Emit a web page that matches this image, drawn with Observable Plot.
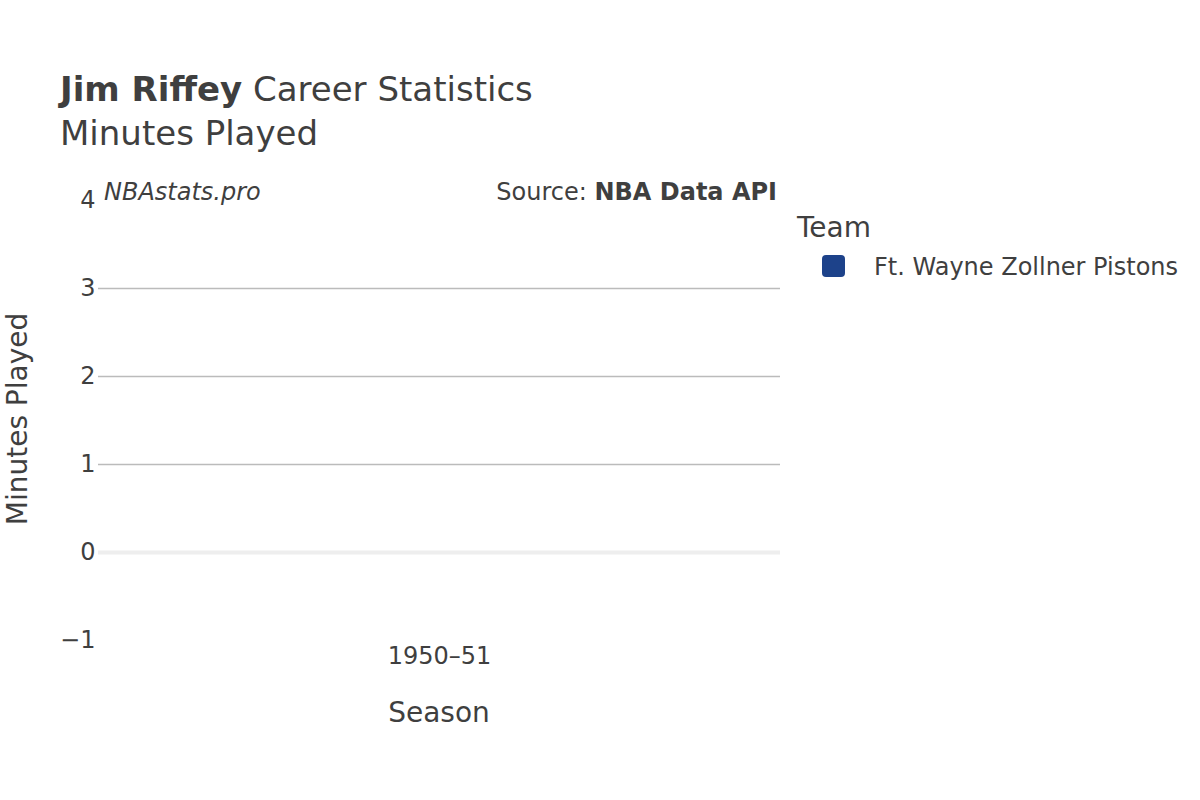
<!DOCTYPE html>
<html>
<head>
<meta charset="utf-8">
<script src="https://cdn.jsdelivr.net/npm/d3@7"></script>
<script src="https://cdn.jsdelivr.net/npm/@observablehq/plot@0.6"></script>
<style>
  html, body { margin: 0; padding: 0; background: #fff; }
  body { width: 1200px; height: 800px; position: relative; overflow: hidden;
         font-family: "DejaVu Sans", sans-serif; color: #3f3f3f; }
  .abs { position: absolute; white-space: nowrap; }
  #title { left: 60px; top: 67px; font-size: 34px; line-height: 44px; }
  #chart { position: absolute; left: 0; top: 160px; }
  #ylabel { left: 17px; top: 419px; font-size: 28px; transform: translate(-50%, -50%) rotate(-90deg); }
  #xlabel { left: 439px; top: 712px; font-size: 28px; transform: translate(-50%, -50%); }
  #brand { left: 104px; top: 192px; font-size: 24px; font-style: italic; transform: translateY(-50%); }
  #source { left: 777px; top: 192px; font-size: 24px; transform: translate(-100%, -50%); }
  #legtitle { left: 797px; top: 227px; font-size: 28px; transform: translateY(-50%); }
  #legswatch { left: 822px; top: 255px; width: 23px; height: 22px; border-radius: 4px; }
  #legtext { left: 874px; top: 267px; font-size: 24px; transform: translateY(-50%); }
</style>
</head>
<body>
<div id="title" class="abs"><b>Jim Riffey</b> Career Statistics<br>Minutes Played</div>
<div id="brand" class="abs">NBAstats.pro</div>
<div id="source" class="abs">Source: <b>NBA Data API</b></div>
<div id="legtitle" class="abs">Team</div>
<div id="legswatch" class="abs"></div>
<div id="legtext" class="abs"></div>
<div id="ylabel" class="abs">Minutes Played</div>
<div id="xlabel" class="abs">Season</div>
<div id="chart"></div>
<script>
const seasons = ["1950–51"];
const teams = ["Ft. Wayne Zollner Pistons"];
const minutes = [0];
const teamColors = ["#1d428a"];
const yTicks = [-1, 0, 1, 2, 3, 4];
const gridTicks = [1, 2, 3];

const data = seasons.map((s, i) => ({season: s, team: teams[i], minutes: minutes[i]}));

document.getElementById("legswatch").style.background = teamColors[0];
document.getElementById("legtext").textContent = teams[0];

const plot = Plot.plot({
  width: 800,
  height: 580,
  marginTop: 40,
  marginBottom: 100,
  marginLeft: 98,
  marginRight: 20,
  style: { fontFamily: "DejaVu Sans, sans-serif", fontSize: "24px", color: "#3f3f3f", background: "transparent", overflow: "visible" },
  x: { domain: seasons, padding: 0.2, label: null },
  y: { domain: [-1, 4], label: null },
  color: { domain: teams, range: teamColors },
  marks: [
    Plot.ruleY(gridTicks, { stroke: "#bbbbbb", strokeWidth: 1.5 }),
    Plot.ruleY([0], { stroke: "#eeeeee", strokeWidth: 4 }),
    Plot.barY(data, { x: "season", y: "minutes", fill: "team" }),
    Plot.axisY({ ticks: yTicks, tickSize: 0, tickPadding: 3, tickFormat: d => d < 0 ? "−" + Math.abs(d) : String(d), fontSize: 24, fill: "#3f3f3f" }),
    Plot.axisX({ tickSize: 0, tickPadding: 6, fontSize: 24, fill: "#3f3f3f" })
  ]
});
document.getElementById("chart").appendChild(plot);
</script>
</body>
</html>
